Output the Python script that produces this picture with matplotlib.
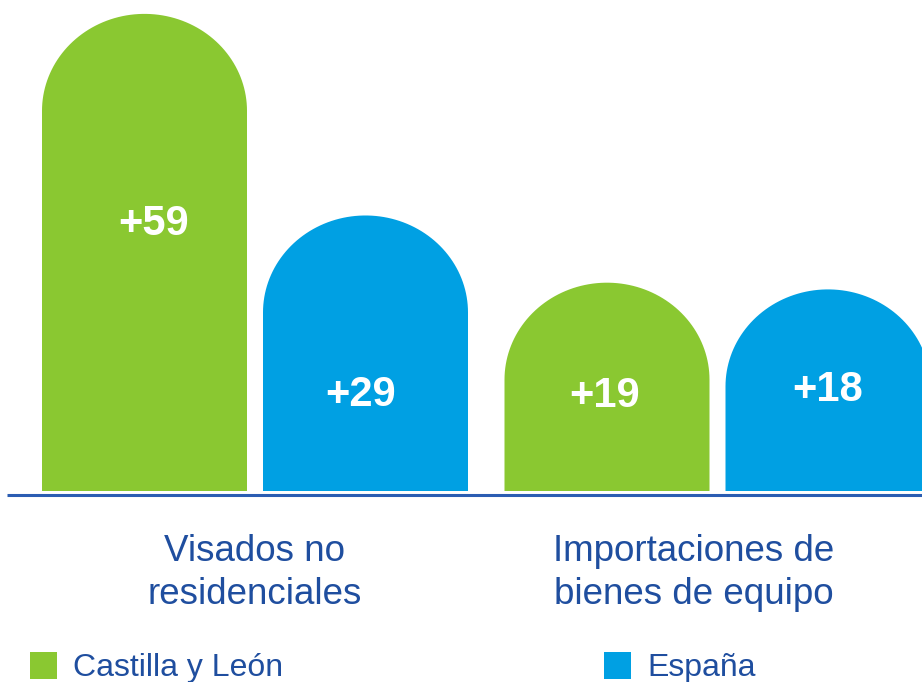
import numpy as np
import matplotlib
matplotlib.use("Agg")
import matplotlib.pyplot as plt
from matplotlib.patches import Polygon, Rectangle

# ---- data ----
categories = ["Visados no\nresidenciales", "Importaciones de\nbienes de equipo"]
series_names = ["Castilla y León", "España"]
castilla = [59, 19]
espana = [29, 18]
value_labels_cyl = ["+59", "+19"]
value_labels_esp = ["+29", "+18"]

# ---- style ----
GREEN = "#8AC831"
BLUE = "#00A0E3"
TEXT_BLUE = "#1F4E9F"
LINE_BLUE = "#2B5DB2"
FONT = ["Liberation Sans", "DejaVu Sans"]

W, H = 922, 682
PX_PER_GROUP = 462.5      # pixels between group centres
G0_PX = 255               # x pixel of first group centre
BASE_PX = 491             # y pixel (from top) of bar bottoms
PX_PER_UNIT = 6.72        # pixels per value unit
BAR_OFFSET = 12           # extra height added to every bar (value units)
BAR_W = 205 / PX_PER_GROUP
BAR_SHIFT = 221 / 2 / PX_PER_GROUP
DOME_H = 97 / PX_PER_UNIT

fig = plt.figure(figsize=(W / 100, H / 100), dpi=100)
ax = fig.add_axes([0, 0, 1, 1])
ax.set_xlim(-G0_PX / PX_PER_GROUP, (W - G0_PX) / PX_PER_GROUP)
ax.set_ylim((BASE_PX - H) / PX_PER_UNIT, BASE_PX / PX_PER_UNIT)
ax.axis("off")


def dome_bar(xc, value, color):
    top = value + BAR_OFFSET
    x0, x1 = xc - BAR_W / 2, xc + BAR_W / 2
    t = np.linspace(np.pi, 0, 80)
    arc_x = xc + (BAR_W / 2) * np.cos(t)
    arc_y = (top - DOME_H) + DOME_H * np.sin(t)
    xs = np.concatenate([[x0], arc_x, [x1]])
    ys = np.concatenate([[0], arc_y, [0]])
    ax.add_patch(Polygon(np.column_stack([xs, ys]), closed=True,
                         facecolor=color, edgecolor="none"))


label_y_cyl = [39.7, 14.1]
label_y_esp = [14.3, 15.0]
label_dx_cyl = [9 / PX_PER_GROUP, -2 / PX_PER_GROUP]

for i in range(len(categories)):
    xg = i
    dome_bar(xg - BAR_SHIFT, castilla[i], GREEN)
    dome_bar(xg + BAR_SHIFT, espana[i], BLUE)
    ax.text(xg - BAR_SHIFT + label_dx_cyl[i], label_y_cyl[i], value_labels_cyl[i],
            color="white", fontsize=30, fontweight="bold", family=FONT,
            ha="center", va="center")
    ax.text(xg + BAR_SHIFT - 5 / PX_PER_GROUP * (1 - i), label_y_esp[i],
            value_labels_esp[i], color="white", fontsize=30, fontweight="bold",
            family=FONT, ha="center", va="center")

# baseline
ax.plot([(7 - G0_PX) / PX_PER_GROUP, (W - G0_PX) / PX_PER_GROUP], [-0.65, -0.65],
        color=LINE_BLUE, lw=2.2, solid_capstyle="butt")

# category labels
cat_x = [0.0, (694 - G0_PX) / PX_PER_GROUP]
for i, c in enumerate(categories):
    ax.text(cat_x[i], (BASE_PX - 573) / PX_PER_UNIT, c, color=TEXT_BLUE,
            fontsize=26.5, family=FONT, ha="center", va="center", linespacing=1.32)

# legend (figure pixel coordinates)
def px(x, y):
    return x / W, 1 - y / H

leg_items = [(30, GREEN, series_names[0]), (604, BLUE, series_names[1])]
for x_sq, col, name in leg_items:
    x, y = px(x_sq, 679)
    fig.patches.append(Rectangle((x, y), 27 / W, 27 / H, transform=fig.transFigure,
                                 facecolor=col, edgecolor="none"))
    tx, ty = px(x_sq + 43, 668)
    fig.text(tx, ty, name, color=TEXT_BLUE, fontsize=23, family=FONT,
             ha="left", va="center")

fig.savefig("out.png", dpi=100)
